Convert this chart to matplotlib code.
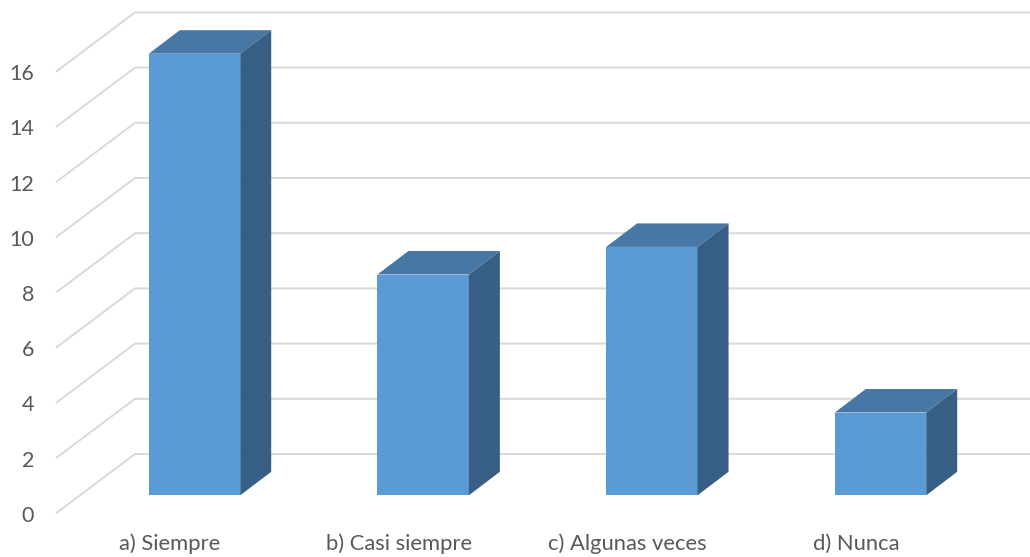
import matplotlib
matplotlib.use('Agg')
import matplotlib.pyplot as plt
from matplotlib.patches import Polygon

categories = ['a) Siempre', 'b) Casi siempre', 'c) Algunas veces', 'd) Nunca']
values = [16, 8, 9, 3]
yticks = [0, 2, 4, 6, 8, 10, 12, 14, 16]

FRONT = '#5B9BD5'
TOP = '#4677A5'
SIDE = '#375F86'
GRID = '#D9D9D9'
TEXT = '#595959'

plt.rcParams['font.family'] = ['Lato', 'DejaVu Sans']

# pixel scale of the picture
slot_px = 228.67
unit_px = 27.6
x0_px = 194.5    # centre of the first bar's front face
y0_px = 495.3    # baseline of the bars

fig = plt.figure(figsize=(10.30, 5.57), dpi=100)
ax = fig.add_axes([0, 0, 1, 1])
ax.set_xlim(-x0_px / slot_px, (1030 - x0_px) / slot_px)
ax.set_ylim((y0_px - 557) / unit_px, y0_px / unit_px)
ax.axis('off')

def px_x(n):
    return n / slot_px

def px_y(n):
    return n / unit_px

# walls: diagonal on the side, then the line along the back
wall_l = px_x(56 - x0_px)
wall_m = px_x(135 - x0_px)
wall_r = px_x(1030 - x0_px)
back_off = px_y(y0_px - 454)
front_off = px_y(y0_px - 513.3)
for t in yticks:
    ax.plot([wall_l, wall_m, wall_r], [t + front_off, t + back_off, t + back_off],
            color=GRID, lw=1.4, zorder=1, solid_joinstyle='miter', solid_capstyle='butt')
    ax.text(px_x(34 - x0_px), t + front_off - px_y(0.5), str(t), ha='right', va='center_baseline',
            fontsize=15.5, color=TEXT)

# 3d bars
half = px_x(45.7)
dx = px_x(31)
dy = px_y(23.5)
for i, v in enumerate(values):
    xl = i - half
    xr = i + half
    ax.add_patch(Polygon([(xl, 0), (xr, 0), (xr, v), (xl, v)], fc=FRONT, lw=0, zorder=3))
    ax.add_patch(Polygon([(xl, v), (xr, v), (xr + dx, v + dy), (xl + dx, v + dy)], fc=TOP, lw=0, zorder=3))
    ax.add_patch(Polygon([(xr, 0), (xr + dx, dy), (xr + dx, v + dy), (xr, v)], fc=SIDE, lw=0, zorder=3))
    ax.text(i + px_x(170 - x0_px), px_y(y0_px - 550), categories[i], ha='center', va='baseline',
            fontsize=15.8, color=TEXT)

fig.savefig('out.png', dpi=100)
